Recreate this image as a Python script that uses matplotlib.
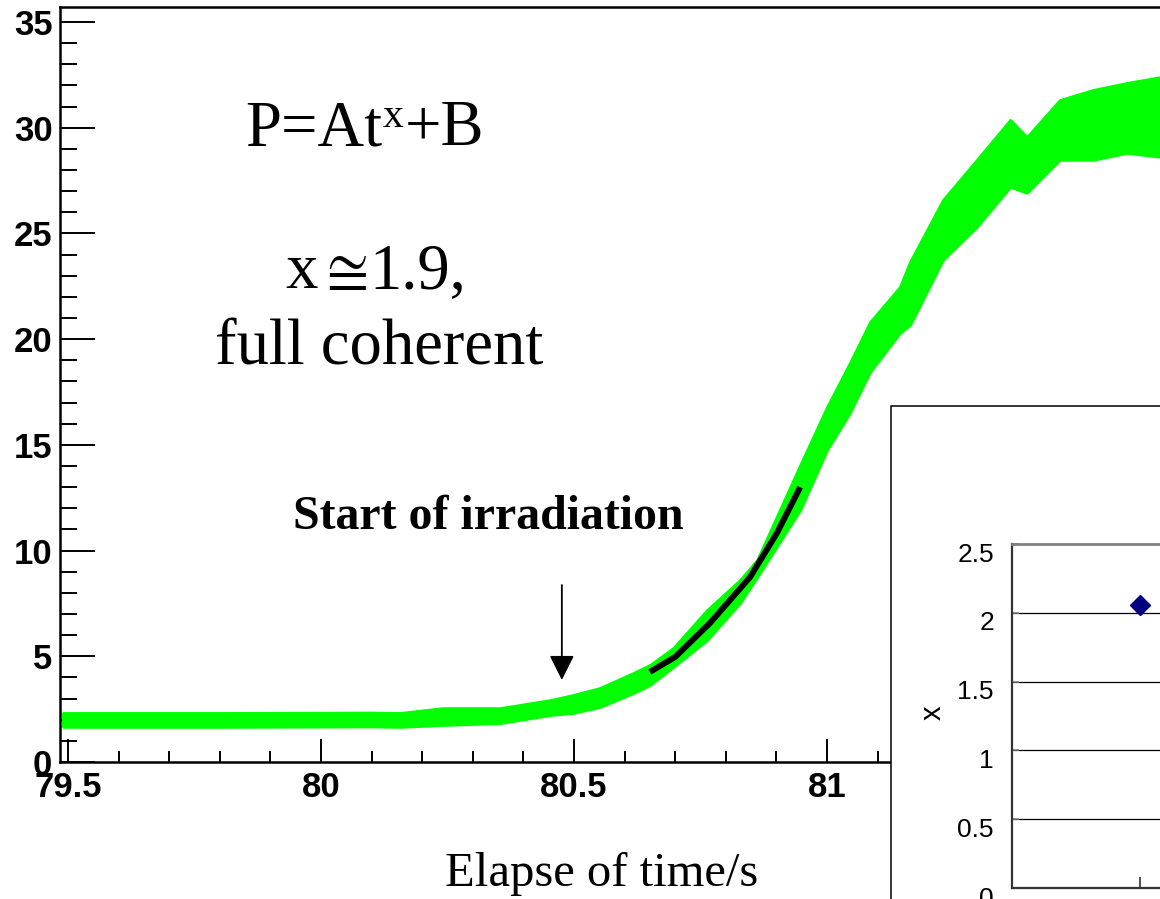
import matplotlib
matplotlib.use("Agg")
import matplotlib.pyplot as plt
import matplotlib.transforms as mtransforms
from matplotlib.patches import Rectangle
from matplotlib.ticker import MultipleLocator

plt.rcParams["mathtext.fontset"] = "stix"

# ---- data ----
time_s = [79.49, 79.80, 80.10, 80.156, 80.241, 80.354, 80.453, 80.498, 80.551, 80.617,
          80.650, 80.696, 80.763, 80.828, 80.862, 80.947, 81.000, 81.045, 81.085,
          81.144, 81.164, 81.229, 81.296, 81.362, 81.395, 81.460, 81.526, 81.593, 81.66]
power_low = [1.66, 1.66, 1.68, 1.66, 1.75, 1.84, 2.22, 2.32, 2.60, 3.26,
             3.64, 4.49, 5.77, 7.52, 8.75, 11.92, 14.76, 16.51, 18.45,
             20.29, 20.67, 23.75, 25.31, 27.20, 26.92, 28.48, 28.48, 28.81, 28.62]
power_high = [2.32, 2.32, 2.34, 2.32, 2.55, 2.55, 2.93, 3.17, 3.50, 4.21,
              4.59, 5.39, 7.19, 8.61, 9.56, 14.05, 16.79, 18.87, 20.81,
              22.47, 23.65, 26.58, 28.48, 30.37, 29.56, 31.31, 31.79, 32.12, 32.40]

fit_t = [80.65, 80.70, 80.769, 80.848, 80.901, 80.947]
fit_p = [4.26, 4.97, 6.58, 8.75, 10.83, 13.0]

arrow_t = 80.476
arrow_from, arrow_to = 8.37, 3.88

inset_pos = [1]
inset_x = [2.06]
inset_yticks = [0, 0.5, 1, 1.5, 2, 2.5]
inset_ylabels = ["0", "0.5", "1", "1.5", "2", "2.5"]

main_xticks = [79.5, 80, 80.5, 81, 81.5]
main_xlabels = ["79.5", "80", "80.5", "81", "81.5"]
main_yticks = [0, 5, 10, 15, 20, 25, 30, 35]

W, H = 1160, 899
fig = plt.figure(figsize=(W / 100, H / 100), dpi=100)

def fx(px):
    return px / W

def fy(py):
    return 1 - py / H

# ---- main axes ----
ax = fig.add_axes([fx(60), fy(762), fx(1160) - fx(60), fy(7) - fy(762)])
ax.set_xlim(79.4842, 79.4842 + 1100 / 506)
ax.set_ylim(0, 35.71)
ax.fill_between(time_s, power_low, power_high, color="#00ff00", lw=2.0,
                edgecolor="#00ff00", zorder=2)
ax.plot(fit_t, fit_p, color="black", lw=4.3, solid_capstyle="butt", zorder=3)
ax.annotate("", xy=(arrow_t, arrow_to), xytext=(arrow_t, arrow_from),
            arrowprops=dict(arrowstyle="-|>,head_length=0.8,head_width=0.4",
                            color="black", lw=1.3, mutation_scale=19,
                            shrinkA=0, shrinkB=0))

ax.spines["right"].set_visible(False)
for s in ["left", "bottom", "top"]:
    ax.spines[s].set_linewidth(1.8)
ax.set_xticks(main_xticks)
ax.set_xticklabels(main_xlabels)
ax.set_yticks(main_yticks)
ax.xaxis.set_minor_locator(MultipleLocator(0.1))
ax.yaxis.set_minor_locator(MultipleLocator(1))
ax.tick_params(axis="y", which="major", direction="in", length=25, width=1.4, pad=5.5)
ax.tick_params(axis="y", which="minor", direction="in", length=12, width=1.4)
ax.tick_params(axis="x", which="major", direction="in", length=16.5, width=1.4, pad=6.5)
ax.tick_params(axis="x", which="minor", direction="in", length=8, width=1.4)
for lab in ax.get_xticklabels() + ax.get_yticklabels():
    lab.set_fontfamily("Liberation Sans")
    lab.set_fontweight("bold")
    lab.set_fontsize(25)

# ---- texts ----
serif = "Liberation Serif"
fig.canvas.draw()
r = fig.canvas.get_renderer()


def chain(parts, x0px, base_px):
    """Draw text pieces one after another: (string, size, dy_px)."""
    xcur = fx(x0px)
    for s, size, dy in parts:
        t = fig.text(xcur, fy(base_px - dy), s, fontsize=size, family=serif,
                     va="baseline")
        bb = t.get_window_extent(r)
        xcur = bb.x1 / W + 0.0008


chain([("P=At", 46.5, 0), ("x", 30, 18), ("+B", 46.5, 0)], 245, 145)
chain([("x", 46.5, 0), (r"$\cong$", 44, 0), ("1.9,", 46.5, 0)], 285, 288)

fig.text(fx(215), fy(365), "full coherent", fontsize=46.5, family=serif, va="baseline")
fig.text(fx(293), fy(529), "Start of irradiation", fontsize=34.5, family=serif,
         fontweight="bold", va="baseline")
fig.text(fx(445), fy(886), "Elapse of time/s", fontsize=35, family=serif, va="baseline")

# ---- inset ----
box = Rectangle((fx(891), fy(920)), fx(1200) - fx(891), fy(406) - fy(920),
                transform=fig.transFigure, facecolor="white", edgecolor="black",
                lw=1.1, zorder=1.5)
fig.add_artist(box)

iax = fig.add_axes([fx(1012), fy(888), fx(1160) - fx(1012), fy(544) - fy(888)], zorder=3)
iax.set_xlim(0, 148 / 128)
iax.set_ylim(0, 2.5)
iax.set_facecolor("none")
iax.set_yticks(inset_yticks)
iax.set_yticklabels(inset_ylabels)
iax.set_xticks(inset_pos)
iax.set_xticklabels([])
for y in inset_yticks[1:-1]:
    iax.axhline(y, color="black", lw=0.9, zorder=1)
iax.spines["right"].set_visible(False)
iax.spines["top"].set_color("#808080")
iax.spines["top"].set_linewidth(2.0)
iax.spines["left"].set_linewidth(1.6)
iax.spines["left"].set_color("#333333")
iax.spines["bottom"].set_linewidth(1.6)
iax.spines["bottom"].set_color("#333333")
iax.tick_params(axis="y", direction="in", length=5, width=1.2, color="#808080", pad=13)
iax.tick_params(axis="x", direction="in", length=8, width=1.2, color="#333333")
offset = mtransforms.ScaledTranslation(0, -8 / 100, fig.dpi_scale_trans)
for lab in iax.get_yticklabels():
    lab.set_fontfamily("Liberation Sans")
    lab.set_fontsize(19)
    lab.set_transform(lab.get_transform() + offset)
iax.plot(inset_pos, inset_x, linestyle="none", marker="D", markersize=10,
         color="#000080", zorder=4, clip_on=False)
fig.text(fx(933), fy(713), "x", fontsize=21, family="Liberation Sans",
         rotation=90, ha="center", va="center")

fig.savefig("out.png", dpi=100)
